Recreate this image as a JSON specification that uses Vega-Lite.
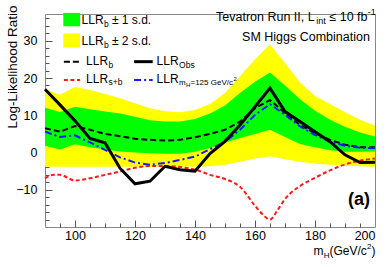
{
"$schema": "https://vega.github.io/schema/vega-lite/v6.json",
"autosize": {"type": "none"},
"padding": {"left": 45, "top": 14, "right": 15, "bottom": 40},
"width": 330,
"height": 213,
"config": {"view": {"stroke": "#888888", "strokeWidth": 1}, "axis": {"grid": false}, "text": {"font": "Liberation Sans, Arial, sans-serif", "color": "#000000"}},
"datasets": {
"band": [
{"x": 90, "lo2": -3.8, "lo1": 1.8, "hi1": 12.0, "hi2": 17.0},
{"x": 95, "lo2": -3.8, "lo1": 0.8, "hi1": 10.9, "hi2": 15.5},
{"x": 100, "lo2": -3.8, "lo1": 2.2, "hi1": 12.3, "hi2": 17.6},
{"x": 105, "lo2": -3.8, "lo1": 1.4, "hi1": 11.6, "hi2": 16.8},
{"x": 110, "lo2": -3.8, "lo1": 0.8, "hi1": 11.0, "hi2": 15.7},
{"x": 115, "lo2": -3.8, "lo1": 0.3, "hi1": 10.5, "hi2": 14.6},
{"x": 120, "lo2": -3.8, "lo1": 0.0, "hi1": 9.6, "hi2": 13.2},
{"x": 125, "lo2": -3.8, "lo1": -0.2, "hi1": 8.7, "hi2": 11.9},
{"x": 130, "lo2": -3.8, "lo1": -0.3, "hi1": 8.3, "hi2": 11.1},
{"x": 135, "lo2": -3.8, "lo1": -0.3, "hi1": 8.3, "hi2": 10.8},
{"x": 140, "lo2": -3.8, "lo1": 0.2, "hi1": 9.0, "hi2": 11.4},
{"x": 145, "lo2": -3.7, "lo1": 1.2, "hi1": 10.5, "hi2": 13.0},
{"x": 150, "lo2": -3.3, "lo1": 2.6, "hi1": 12.6, "hi2": 16.0},
{"x": 155, "lo2": -2.5, "lo1": 3.9, "hi1": 16.0, "hi2": 20.5},
{"x": 160, "lo2": -1.6, "lo1": 5.0, "hi1": 19.0, "hi2": 25.0},
{"x": 165, "lo2": -1.0, "lo1": 6.1, "hi1": 21.5, "hi2": 29.0},
{"x": 170, "lo2": -1.8, "lo1": 4.2, "hi1": 18.0, "hi2": 24.0},
{"x": 175, "lo2": -2.5, "lo1": 2.3, "hi1": 14.3, "hi2": 18.8},
{"x": 180, "lo2": -3.0, "lo1": 1.4, "hi1": 11.2, "hi2": 15.2},
{"x": 185, "lo2": -3.3, "lo1": 0.6, "hi1": 8.8, "hi2": 13.0},
{"x": 190, "lo2": -3.5, "lo1": 0.2, "hi1": 6.9, "hi2": 10.8},
{"x": 195, "lo2": -3.7, "lo1": 0.2, "hi1": 5.4, "hi2": 8.8},
{"x": 200, "lo2": -3.8, "lo1": 0.3, "hi1": 4.3, "hi2": 7.2}
],
"curves": [
{"series": "b", "x": 90, "llr": 6.5}, {"series": "b", "x": 95, "llr": 5.6}, {"series": "b", "x": 100, "llr": 7.1}, {"series": "b", "x": 105, "llr": 6.1}, {"series": "b", "x": 110, "llr": 5.0}, {"series": "b", "x": 115, "llr": 4.4}, {"series": "b", "x": 120, "llr": 3.7}, {"series": "b", "x": 125, "llr": 3.4}, {"series": "b", "x": 130, "llr": 3.2}, {"series": "b", "x": 135, "llr": 3.4}, {"series": "b", "x": 140, "llr": 4.1}, {"series": "b", "x": 145, "llr": 5.0}, {"series": "b", "x": 150, "llr": 6.1}, {"series": "b", "x": 155, "llr": 8.3}, {"series": "b", "x": 160, "llr": 11.9}, {"series": "b", "x": 165, "llr": 14.1}, {"series": "b", "x": 170, "llr": 10.6}, {"series": "b", "x": 175, "llr": 7.4}, {"series": "b", "x": 180, "llr": 5.2}, {"series": "b", "x": 185, "llr": 3.4}, {"series": "b", "x": 190, "llr": 2.1}, {"series": "b", "x": 195, "llr": 1.4}, {"series": "b", "x": 200, "llr": 1.4},
{"series": "sb", "x": 90, "llr": -6.9}, {"series": "sb", "x": 93, "llr": -6.0}, {"series": "sb", "x": 95, "llr": -6.0}, {"series": "sb", "x": 100, "llr": -7.5}, {"series": "sb", "x": 105, "llr": -6.9}, {"series": "sb", "x": 110, "llr": -6.0}, {"series": "sb", "x": 115, "llr": -5.1}, {"series": "sb", "x": 120, "llr": -4.1}, {"series": "sb", "x": 125, "llr": -3.6}, {"series": "sb", "x": 130, "llr": -3.6}, {"series": "sb", "x": 135, "llr": -3.9}, {"series": "sb", "x": 140, "llr": -4.6}, {"series": "sb", "x": 145, "llr": -6.0}, {"series": "sb", "x": 150, "llr": -7.1}, {"series": "sb", "x": 155, "llr": -9.2}, {"series": "sb", "x": 160, "llr": -14.3}, {"series": "sb", "x": 162.5, "llr": -16.6}, {"series": "sb", "x": 165, "llr": -18.0}, {"series": "sb", "x": 167.5, "llr": -15.5}, {"series": "sb", "x": 170, "llr": -12.5}, {"series": "sb", "x": 175, "llr": -9.0}, {"series": "sb", "x": 180, "llr": -6.8}, {"series": "sb", "x": 185, "llr": -4.8}, {"series": "sb", "x": 190, "llr": -3.2}, {"series": "sb", "x": 195, "llr": -2.2}, {"series": "sb", "x": 200, "llr": -1.6},
{"series": "mh", "x": 90, "llr": 5.6}, {"series": "mh", "x": 95, "llr": 4.2}, {"series": "mh", "x": 100, "llr": 4.6}, {"series": "mh", "x": 105, "llr": 2.7}, {"series": "mh", "x": 110, "llr": 0.7}, {"series": "mh", "x": 115, "llr": -1.3}, {"series": "mh", "x": 120, "llr": -2.7}, {"series": "mh", "x": 125, "llr": -3.3}, {"series": "mh", "x": 130, "llr": -2.8}, {"series": "mh", "x": 135, "llr": -2.0}, {"series": "mh", "x": 140, "llr": -1.1}, {"series": "mh", "x": 145, "llr": 0.9}, {"series": "mh", "x": 150, "llr": 2.9}, {"series": "mh", "x": 155, "llr": 6.1}, {"series": "mh", "x": 160, "llr": 10.1}, {"series": "mh", "x": 165, "llr": 13.0}, {"series": "mh", "x": 170, "llr": 10.1}, {"series": "mh", "x": 175, "llr": 7.0}, {"series": "mh", "x": 180, "llr": 4.7}, {"series": "mh", "x": 185, "llr": 2.9}, {"series": "mh", "x": 190, "llr": 1.8}, {"series": "mh", "x": 195, "llr": 1.3}, {"series": "mh", "x": 200, "llr": 1.2},
{"series": "obs", "x": 90, "llr": 17.0}, {"series": "obs", "x": 95, "llr": 12.8}, {"series": "obs", "x": 100, "llr": 8.5}, {"series": "obs", "x": 105, "llr": 3.8}, {"series": "obs", "x": 110, "llr": 2.6}, {"series": "obs", "x": 115, "llr": -4.2}, {"series": "obs", "x": 120, "llr": -8.4}, {"series": "obs", "x": 125, "llr": -7.7}, {"series": "obs", "x": 130, "llr": -3.7}, {"series": "obs", "x": 135, "llr": -4.6}, {"series": "obs", "x": 140, "llr": -5.0}, {"series": "obs", "x": 145, "llr": -0.3}, {"series": "obs", "x": 150, "llr": 3.0}, {"series": "obs", "x": 155, "llr": 7.4}, {"series": "obs", "x": 160, "llr": 12.3}, {"series": "obs", "x": 165, "llr": 17.3}, {"series": "obs", "x": 170, "llr": 11.0}, {"series": "obs", "x": 175, "llr": 8.3}, {"series": "obs", "x": 180, "llr": 5.6}, {"series": "obs", "x": 185, "llr": 2.9}, {"series": "obs", "x": 190, "llr": -0.6}, {"series": "obs", "x": 195, "llr": -2.7}, {"series": "obs", "x": 200, "llr": -2.6}
]
},
"resolve": {"axis": {"x": "independent", "y": "independent"}},
"layer": [
{"data": {"name": "band"}, "mark": {"type": "area", "color": "#ffff00", "opacity": 1},
 "encoding": {
  "x": {"field": "x", "type": "quantitative", "scale": {"domain": [90, 200], "nice": false, "zero": false},
        "axis": {"orient": "bottom", "values": [100, 120, 140, 160, 180, 200], "ticks": false, "domain": false, "labelPadding": 2, "labelFontSize": 12.5, "labelFont": "Liberation Sans, Arial, sans-serif", "labelColor": "#000000", "title": null}},
  "y": {"field": "lo2", "type": "quantitative", "scale": {"domain": [-20, 37.2], "nice": false, "zero": false},
        "axis": {"orient": "left", "values": [-10, 0, 10, 20, 30], "ticks": false, "domain": false, "labelPadding": 8, "labelFontSize": 12.5, "labelFont": "Liberation Sans, Arial, sans-serif", "labelColor": "#000000",
                 "title": "Log-Likelihood Ratio", "titleFont": "Liberation Sans, Arial, sans-serif", "titleFontSize": 13.5, "titleFontWeight": "normal", "titleColor": "#000000", "titleAngle": -90, "titleAlign": "right", "titleBaseline": "middle", "titleX": -33, "titleY": -9}},
  "y2": {"field": "hi2"}
 }},
{"data": {"name": "band"}, "mark": {"type": "area", "color": "#00ff00", "opacity": 1},
 "encoding": {
  "x": {"field": "x", "type": "quantitative", "axis": {"orient": "bottom", "values": [100, 120, 140, 160, 180], "labels": false, "domain": false, "ticks": true, "tickSize": -7, "tickColor": "#555555", "title": null}},
  "y": {"field": "lo1", "type": "quantitative", "axis": {"orient": "left", "values": [-10, 0, 10, 20, 30], "labels": false, "domain": false, "ticks": true, "tickSize": -7, "tickColor": "#555555", "title": null}},
  "y2": {"field": "hi1"}
 }},
{"data": {"name": "curves"}, "transform": [{"filter": "datum.series === 'b'"}],
 "mark": {"type": "line", "color": "#000000", "strokeWidth": 2, "strokeDash": [6, 3]},
 "encoding": {
  "x": {"field": "x", "type": "quantitative", "axis": {"orient": "bottom", "values": [95, 105, 110, 115, 125, 130, 135, 145, 150, 155, 165, 170, 175, 185, 190, 195], "labels": false, "domain": false, "ticks": true, "tickSize": -4, "tickColor": "#555555", "title": null}},
  "y": {"field": "llr", "type": "quantitative", "axis": {"orient": "left", "values": [-18, -16, -14, -12, -8, -6, -4, -2, 2, 4, 6, 8, 12, 14, 16, 18, 22, 24, 26, 28, 32, 34, 36], "labels": false, "domain": false, "ticks": true, "tickSize": -4, "tickColor": "#555555", "title": null}}
 }},
{"data": {"name": "curves"}, "transform": [{"filter": "datum.series === 'sb'"}],
 "mark": {"type": "line", "color": "#ff1a1a", "strokeWidth": 2, "strokeDash": [4, 2.5], "interpolate": "monotone"},
 "encoding": {"x": {"field": "x", "type": "quantitative", "axis": null}, "y": {"field": "llr", "type": "quantitative", "axis": null}}},
{"data": {"name": "curves"}, "transform": [{"filter": "datum.series === 'mh'"}],
 "mark": {"type": "line", "color": "#1a1aff", "strokeWidth": 2, "strokeDash": [7, 3, 2, 3]},
 "encoding": {"x": {"field": "x", "type": "quantitative", "axis": null}, "y": {"field": "llr", "type": "quantitative", "axis": null}}},
{"data": {"name": "curves"}, "transform": [{"filter": "datum.series === 'obs'"}],
 "mark": {"type": "line", "color": "#000000", "strokeWidth": 3},
 "encoding": {"x": {"field": "x", "type": "quantitative", "axis": null}, "y": {"field": "llr", "type": "quantitative", "axis": null}}},

{"data": {"values": [{}]}, "mark": {"type": "rect", "color": "#00ff00"},
 "encoding": {"x": {"datum": 96.1, "axis": null}, "x2": {"datum": 101.7}, "y": {"datum": 33.9, "axis": null}, "y2": {"datum": 37.5}}},
{"data": {"values": [{}]}, "mark": {"type": "rect", "color": "#ffff00"},
 "encoding": {"x": {"datum": 96.1, "axis": null}, "x2": {"datum": 101.7}, "y": {"datum": 28.2, "axis": null}, "y2": {"datum": 32.0}}},
{"data": {"values": [{}]}, "mark": {"type": "rule", "color": "#000000", "strokeWidth": 2, "strokeDash": [6, 3]},
 "encoding": {"x": {"datum": 96.3, "axis": null}, "x2": {"datum": 101.7}, "y": {"datum": 24.4, "axis": null}}},
{"data": {"values": [{}]}, "mark": {"type": "rule", "color": "#ff1a1a", "strokeWidth": 2, "strokeDash": [4, 2.5]},
 "encoding": {"x": {"datum": 96.3, "axis": null}, "x2": {"datum": 101.7}, "y": {"datum": 19.5, "axis": null}}},
{"data": {"values": [{}]}, "mark": {"type": "rule", "color": "#000000", "strokeWidth": 3},
 "encoding": {"x": {"datum": 119.7, "axis": null}, "x2": {"datum": 125.9}, "y": {"datum": 24.4, "axis": null}}},
{"data": {"values": [{}]}, "mark": {"type": "rule", "color": "#1a1aff", "strokeWidth": 2, "strokeDash": [7, 3, 2, 3]},
 "encoding": {"x": {"datum": 119.7, "axis": null}, "x2": {"datum": 125.9}, "y": {"datum": 19.5, "axis": null}}},

{"data": {"values": [{}]}, "mark": {"type": "text", "text": "LLR", "align": "left", "baseline": "alphabetic", "fontSize": 12},
 "encoding": {"x": {"datum": 102.2, "axis": null}, "y": {"datum": 34.5, "axis": null}}},
{"data": {"values": [{}]}, "mark": {"type": "text", "text": "b", "align": "left", "baseline": "alphabetic", "fontSize": 8.5},
 "encoding": {"x": {"datum": 109.7, "axis": null}, "y": {"datum": 33.8, "axis": null}}},
{"data": {"values": [{}]}, "mark": {"type": "text", "text": "± 1 s.d.", "align": "left", "baseline": "alphabetic", "fontSize": 12},
 "encoding": {"x": {"datum": 112.3, "axis": null}, "y": {"datum": 34.5, "axis": null}}},
{"data": {"values": [{}]}, "mark": {"type": "text", "text": "LLR", "align": "left", "baseline": "alphabetic", "fontSize": 12},
 "encoding": {"x": {"datum": 102.2, "axis": null}, "y": {"datum": 28.9, "axis": null}}},
{"data": {"values": [{}]}, "mark": {"type": "text", "text": "b", "align": "left", "baseline": "alphabetic", "fontSize": 8.5},
 "encoding": {"x": {"datum": 109.7, "axis": null}, "y": {"datum": 28.2, "axis": null}}},
{"data": {"values": [{}]}, "mark": {"type": "text", "text": "± 2 s.d.", "align": "left", "baseline": "alphabetic", "fontSize": 12},
 "encoding": {"x": {"datum": 112.3, "axis": null}, "y": {"datum": 28.9, "axis": null}}},

{"data": {"values": [{}]}, "mark": {"type": "text", "text": "LLR", "align": "left", "baseline": "alphabetic", "fontSize": 12},
 "encoding": {"x": {"datum": 103.7, "axis": null}, "y": {"datum": 23.5, "axis": null}}},
{"data": {"values": [{}]}, "mark": {"type": "text", "text": "b", "align": "left", "baseline": "alphabetic", "fontSize": 8.5},
 "encoding": {"x": {"datum": 111.2, "axis": null}, "y": {"datum": 22.8, "axis": null}}},
{"data": {"values": [{}]}, "mark": {"type": "text", "text": "LLR", "align": "left", "baseline": "alphabetic", "fontSize": 12},
 "encoding": {"x": {"datum": 103.7, "axis": null}, "y": {"datum": 18.8, "axis": null}}},
{"data": {"values": [{}]}, "mark": {"type": "text", "text": "s+b", "align": "left", "baseline": "alphabetic", "fontSize": 8.5},
 "encoding": {"x": {"datum": 111.2, "axis": null}, "y": {"datum": 18.1, "axis": null}}},
{"data": {"values": [{}]}, "mark": {"type": "text", "text": "LLR", "align": "left", "baseline": "alphabetic", "fontSize": 12},
 "encoding": {"x": {"datum": 127.2, "axis": null}, "y": {"datum": 23.5, "axis": null}}},
{"data": {"values": [{}]}, "mark": {"type": "text", "text": "Obs", "align": "left", "baseline": "alphabetic", "fontSize": 8.5},
 "encoding": {"x": {"datum": 134.7, "axis": null}, "y": {"datum": 22.8, "axis": null}}},
{"data": {"values": [{}]}, "mark": {"type": "text", "text": "LLR", "align": "left", "baseline": "alphabetic", "fontSize": 12},
 "encoding": {"x": {"datum": 127.2, "axis": null}, "y": {"datum": 18.8, "axis": null}}},
{"data": {"values": [{}]}, "mark": {"type": "text", "text": "m", "align": "left", "baseline": "alphabetic", "fontSize": 8},
 "encoding": {"x": {"datum": 134.7, "axis": null}, "y": {"datum": 18.1, "axis": null}}},
{"data": {"values": [{}]}, "mark": {"type": "text", "text": "H", "align": "left", "baseline": "alphabetic", "fontSize": 6},
 "encoding": {"x": {"datum": 137.0, "axis": null}, "y": {"datum": 17.5, "axis": null}}},
{"data": {"values": [{}]}, "mark": {"type": "text", "text": "=125 GeV/c", "align": "left", "baseline": "alphabetic", "fontSize": 8},
 "encoding": {"x": {"datum": 138.5, "axis": null}, "y": {"datum": 18.1, "axis": null}}},
{"data": {"values": [{}]}, "mark": {"type": "text", "text": "2", "align": "left", "baseline": "alphabetic", "fontSize": 6},
 "encoding": {"x": {"datum": 152.8, "axis": null}, "y": {"datum": 19.2, "axis": null}}},

{"data": {"values": [{}]}, "mark": {"type": "text", "text": "Tevatron Run II, L", "align": "left", "baseline": "alphabetic", "fontSize": 12.5},
 "encoding": {"x": {"datum": 147.0, "axis": null}, "y": {"datum": 35.3, "axis": null}}},
{"data": {"values": [{}]}, "mark": {"type": "text", "text": "int", "align": "left", "baseline": "alphabetic", "fontSize": 9},
 "encoding": {"x": {"datum": 180.4, "axis": null}, "y": {"datum": 34.5, "axis": null}}},
{"data": {"values": [{}]}, "mark": {"type": "text", "text": "≤ 10 fb", "align": "left", "baseline": "alphabetic", "fontSize": 12.5},
 "encoding": {"x": {"datum": 184.8, "axis": null}, "y": {"datum": 35.3, "axis": null}}},
{"data": {"values": [{}]}, "mark": {"type": "text", "text": "-1", "align": "left", "baseline": "alphabetic", "fontSize": 9},
 "encoding": {"x": {"datum": 197.6, "axis": null}, "y": {"datum": 37.0, "axis": null}}},
{"data": {"values": [{}]}, "mark": {"type": "text", "text": "SM Higgs Combination", "align": "right", "baseline": "alphabetic", "fontSize": 12.5},
 "encoding": {"x": {"datum": 198.3, "axis": null}, "y": {"datum": 29.9, "axis": null}}},
{"data": {"values": [{}]}, "mark": {"type": "text", "text": "(a)", "align": "right", "baseline": "alphabetic", "fontSize": 18, "fontWeight": "bold"},
 "encoding": {"x": {"datum": 198.3, "axis": null}, "y": {"datum": -14.0, "axis": null}}},

{"data": {"values": [{}]}, "mark": {"type": "text", "text": "m", "align": "left", "baseline": "alphabetic", "fontSize": 12},
 "encoding": {"x": {"datum": 179.5, "axis": null}, "y": {"datum": -27.4, "axis": null}}},
{"data": {"values": [{}]}, "mark": {"type": "text", "text": "H", "align": "left", "baseline": "alphabetic", "fontSize": 8},
 "encoding": {"x": {"datum": 182.9, "axis": null}, "y": {"datum": -28.3, "axis": null}}},
{"data": {"values": [{}]}, "mark": {"type": "text", "text": "(GeV/c", "align": "left", "baseline": "alphabetic", "fontSize": 12},
 "encoding": {"x": {"datum": 184.8, "axis": null}, "y": {"datum": -27.4, "axis": null}}},
{"data": {"values": [{}]}, "mark": {"type": "text", "text": "2", "align": "left", "baseline": "alphabetic", "fontSize": 8},
 "encoding": {"x": {"datum": 197.3, "axis": null}, "y": {"datum": -25.9, "axis": null}}},
{"data": {"values": [{}]}, "mark": {"type": "text", "text": ")", "align": "left", "baseline": "alphabetic", "fontSize": 12},
 "encoding": {"x": {"datum": 198.8, "axis": null}, "y": {"datum": -27.4, "axis": null}}}
]
}
